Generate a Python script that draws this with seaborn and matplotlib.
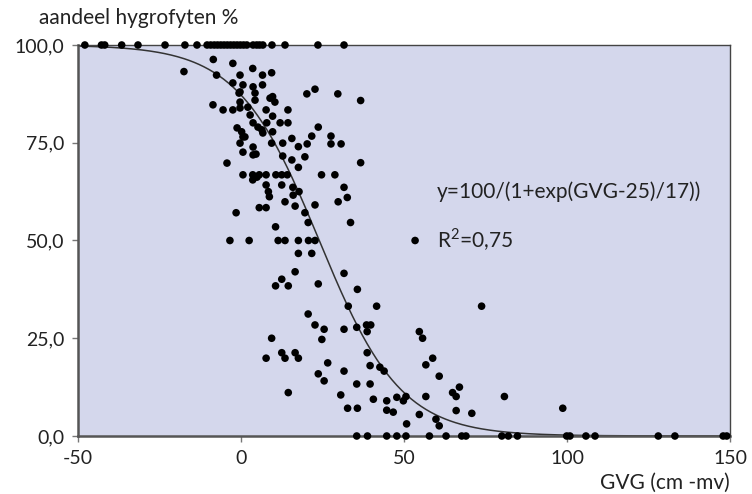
import numpy as np
import pandas as pd
import matplotlib
matplotlib.use("Agg")
import matplotlib.pyplot as plt
import seaborn as sns

# ---- data ----
top_x = [-47.9, -42.8, -41.8, -36.6, -31.6, -23.3, -17.2, -13.5, -10.4, -9.3, -8.2, -7.2,
         -6.2, -5.2, -4.2, -3.2, -2.2, -1.2, -0.2, 0.8, 1.8, 3.7, 4.8, 5.7, 6.7, 9.5, 13.5,
         23.6, 31.6]
zero_x = [35.5, 38.8, 44.7, 47.8, 50.6, 57.8, 62.9, 67.7, 69.0, 80.0, 82.0, 84.8, 99.9,
          100.9, 105.8, 108.6, 128.0, 133.1, 147.9, 149.0]
mid_gvg = [-8.5, -17.5, -7.5, -2.5, -0.3, 3.6, -2.5, 0.6, 3.7, -0.3, -0.3, -8.6, -5.5, -2.5,
           -0.3, 2.1, 2.8, 3.7, -1.2, 0.6, -0.3, 3.7, 0.6, 3.7, -4.3, 0.6, 4.9,
           6.6, 6.6, 9.4, -0.6, 4.3, 4.3, 8.9, 10.4, 9.7, 14.4, 20.2, 22.7, 29.7, 36.7, 7.7,
           5.2, 6.4, 6.7, 7.9, 12.0, 14.4, 9.7, 0.2, 1.2, 9.7, 15.6, 12.8, 9.4, 17.6, 21.7,
           23.7, 20.3, 27.6, 27.6, 30.7, 4.6, 12.8, 15.6, 19.6, 17.6, 36.7,
           3.6, 5.6, 7.7, 10.7, 12.5, 14.2, 24.7, 28.8,
           3.6, 7.7, 12.5, 8.4, 8.7, 15.9, 17.8, 16.0, 13.5, 16.6, 22.7, 31.6, 32.6, 29.8,
           5.6, 7.7, -1.5, 19.6, 20.6, 33.6, 10.6,
           -3.4, 2.5, 11.4, 13.5, 17.6, 20.7, 22.7, 53.4,
           17.6, 21.7, 16.6, 12.5, 10.6, 14.5, 23.7, 31.6, 35.7, 32.9, 41.6, 20.6,
           22.7, 25.5, 24.8, 31.6, 35.5, 38.5, 39.8, 38.7, 9.4, 12.5, 13.5, 16.6, 17.6, 7.7,
           26.6, 31.6, 23.7, 25.5, 38.7, 39.6, 42.6, 43.9, 35.5, 39.6, 14.5, 30.6, 40.6,
           32.7, 35.7, 44.7, 44.7, 46.7, 47.8,
           73.8, 54.7, 55.7, 58.8, 56.7, 60.8, 49.8, 50.6, 56.7, 50.8, 54.7, 59.8, 60.8,
           64.9, 66.0, 67.0, 66.0, 70.8, 80.8, 98.7]
mid_pct = [96.3, 93.2, 92.3, 95.3, 92.3, 94.0, 90.3, 89.8, 89.3, 88.0, 85.4, 84.7, 83.4, 83.4,
           83.9, 84.1, 82.1, 80.1, 78.8, 76.5, 74.9, 73.9, 72.6, 71.9, 69.8, 66.8, 66.2,
           92.3, 89.8, 92.9, 87.7, 87.7, 85.9, 86.4, 85.4, 86.8, 83.4, 87.5, 88.7, 87.5, 85.8, 83.4,
           79.0, 78.3, 77.5, 80.1, 80.1, 80.1, 81.8, 77.8, 76.5, 77.8, 76.1, 74.9, 74.9, 74.0, 76.7,
           79.0, 74.7, 76.7, 74.7, 74.7, 72.1, 71.6, 70.6, 71.4, 68.7, 69.9,
           66.8, 66.8, 66.8, 66.8, 66.8, 66.8, 66.8, 66.8,
           65.5, 64.2, 64.2, 62.5, 61.2, 63.6, 62.5, 61.6, 59.9, 58.8, 59.1, 63.6, 61.0, 59.9,
           58.4, 58.4, 57.1, 57.1, 54.6, 54.6, 53.5,
           50.0, 50.0, 50.0, 50.0, 50.0, 50.0, 50.0, 50.0,
           46.7, 46.7, 42.0, 40.1, 38.4, 38.4, 38.9, 41.6, 37.5, 33.2, 33.2, 31.2,
           28.4, 27.3, 24.7, 27.3, 27.8, 28.4, 28.4, 26.7, 25.0, 21.3, 19.9, 21.3, 19.9, 19.9,
           18.7, 16.6, 15.9, 14.1, 21.3, 18.0, 17.6, 16.6, 13.3, 13.3, 11.1, 10.5, 9.4,
           7.1, 7.1, 9.0, 6.6, 6.1, 9.9,
           33.2, 26.7, 25.0, 19.9, 18.2, 15.3, 9.0, 10.1, 10.1, 3.1, 5.5, 4.3, 2.6,
           11.1, 10.1, 12.5, 6.5, 5.8, 10.1, 7.1]

gvg = top_x + zero_x + mid_gvg
pct = [100.0] * len(top_x) + [0.0] * len(zero_x) + mid_pct

# logistic trend line as drawn in the reference (midpoint / scale)
curve_mid, curve_scale = 24.0, 12.5

x_ticks = [-50, 0, 50, 100, 150]
x_ticklabels = ["-50", "0", "50", "100", "150"]
y_ticks = [0, 25, 50, 75, 100]
y_ticklabels = ["0,0", "25,0", "50,0", "75,0", "100,0"]

df = pd.DataFrame({"GVG": gvg, "aandeel": pct})
xs = np.linspace(-50, 150, 400)
curve = pd.DataFrame({"GVG": xs, "fit": 100 / (1 + np.exp((xs - curve_mid) / curve_scale))})

sns.set_theme(style="white")
plt.rcParams["font.family"] = ["Lato", "DejaVu Sans"]
plt.rcParams["mathtext.fontset"] = "custom"
plt.rcParams["mathtext.rm"] = "Lato"

fig = plt.figure(figsize=(7.52, 4.94), dpi=100)
ax = fig.add_axes([78 / 752, 1 - 436 / 494, (730 - 78) / 752, (436 - 45) / 494])
ax.set_facecolor("#D4D7EC")

sns.lineplot(data=curve, x="GVG", y="fit", ax=ax, color="#333333", linewidth=1.1, zorder=2)
sns.scatterplot(data=df, x="GVG", y="aandeel", ax=ax, color="black", s=30,
                edgecolor="none", zorder=3, clip_on=False)

ax.set_xlim(-50, 150)
ax.set_ylim(0, 100)
ax.set_xticks(x_ticks)
ax.set_xticklabels(x_ticklabels)
ax.set_yticks(y_ticks)
ax.set_yticklabels(y_ticklabels)
ax.tick_params(axis="both", which="major", labelsize=14, colors="#777777",
               labelcolor="#222222", length=4, width=1, direction="out",
               bottom=True, left=True, pad=6)
ax.set_xlabel("")
ax.set_ylabel("")

for side in ["top", "right"]:
    ax.spines[side].set_color("#444444")
    ax.spines[side].set_linewidth(1.0)
for side in ["left", "bottom"]:
    ax.spines[side].set_color("#555555")
    ax.spines[side].set_linewidth(1.8)

ax.text(60.1, 62.4, "y=100/(1+exp(GVG-25)/17))", fontsize=15, color="#222222",
        ha="left", va="center")
ax.text(60.1, 50.1, r"R$^\mathregular{2}$=0,75", fontsize=15, color="#222222",
        ha="left", va="center")

fig.text(39 / 752, 1 - 18 / 494, "aandeel hygrofyten %", fontsize=15, color="#222222",
         ha="left", va="center")
fig.text(730 / 752, 1 - 483 / 494, "GVG (cm -mv)", fontsize=15, color="#222222",
         ha="right", va="center")

fig.savefig("out.png", dpi=100)
